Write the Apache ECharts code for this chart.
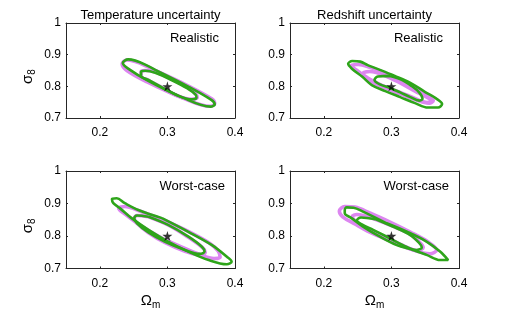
<!DOCTYPE html>
<html>
<head>
<meta charset="utf-8">
<script src="https://cdn.jsdelivr.net/npm/echarts/dist/echarts.min.js"></script>
<style>
html,body{margin:0;padding:0;background:#fff;}
#chart{width:507px;height:312px;}
</style>
</head>
<body>
<div id="chart"></div>
<script>
// ---- data ----
const xTicks = [0.2, 0.3, 0.4];
const yTicks = [0.7, 0.8, 0.9, 1];
const panelTitles = ['Temperature uncertainty', 'Redshift uncertainty', '', ''];
const panelLabels = ['Realistic', 'Realistic', 'Worst-case', 'Worst-case'];
const fiducial = [0.3, 0.8];

// Top-left: temperature uncertainty, realistic
const tlMagentaOuter = [[0.282,0.850],[0.331,0.801],[0.366,0.760],[0.370,0.745],[0.363,0.737],[0.322,0.764],[0.270,0.814],[0.240,0.850],[0.233,0.871],[0.240,0.883]];
const tlMagentaInner = [[0.306,0.823],[0.329,0.798],[0.342,0.776],[0.344,0.765],[0.336,0.759],[0.316,0.769],[0.292,0.796],[0.272,0.819],[0.261,0.833],[0.261,0.846],[0.267,0.850],[0.282,0.845]];
const tlGreenOuter = [[0.282,0.852],[0.330,0.800],[0.365,0.757],[0.370,0.743],[0.364,0.736],[0.322,0.765],[0.271,0.818],[0.242,0.856],[0.234,0.874],[0.242,0.885]];
const tlGreenInner = [[0.306,0.820],[0.329,0.794],[0.342,0.773],[0.343,0.764],[0.336,0.759],[0.316,0.770],[0.292,0.797],[0.272,0.820],[0.261,0.833],[0.261,0.846],[0.267,0.849],[0.282,0.843]];

// Top-right: redshift uncertainty, realistic
const trMagentaOuter = [[0.291,0.841],[0.313,0.818],[0.335,0.793],[0.354,0.768],[0.362,0.755],[0.356,0.747],[0.335,0.758],[0.313,0.776],[0.291,0.795],[0.268,0.818],[0.251,0.847],[0.240,0.866],[0.251,0.869],[0.268,0.860]];
const trMagentaInner = [[0.291,0.833],[0.313,0.811],[0.335,0.785],[0.353,0.765],[0.360,0.754],[0.353,0.749],[0.328,0.768],[0.305,0.787],[0.283,0.806],[0.265,0.826],[0.258,0.841],[0.268,0.847]];
const trGreenOuter = [[0.283,0.852],[0.305,0.833],[0.328,0.811],[0.350,0.782],[0.366,0.762],[0.375,0.744],[0.369,0.733],[0.354,0.733],[0.335,0.747],[0.313,0.766],[0.291,0.785],[0.271,0.804],[0.257,0.830],[0.242,0.855],[0.236,0.871],[0.242,0.880],[0.254,0.878],[0.265,0.867]];
const trGreenInner = [[0.298,0.833],[0.316,0.820],[0.330,0.801],[0.341,0.781],[0.346,0.760],[0.341,0.755],[0.328,0.766],[0.313,0.781],[0.298,0.795],[0.283,0.806],[0.275,0.820],[0.280,0.831]];

// Bottom-left: temperature uncertainty, worst-case
const blMagentaOuter = [[0.296,0.848],[0.333,0.812],[0.363,0.777],[0.375,0.754],[0.378,0.735],[0.369,0.731],[0.348,0.743],[0.319,0.768],[0.289,0.797],[0.259,0.834],[0.237,0.868],[0.228,0.885],[0.237,0.891],[0.259,0.877]];
const blMagentaInner = [[0.272,0.859],[0.301,0.834],[0.331,0.796],[0.352,0.764],[0.356,0.749],[0.349,0.741],[0.326,0.753],[0.296,0.780],[0.272,0.810],[0.255,0.839],[0.251,0.855],[0.255,0.863]];
const blGreenOuter = [[0.292,0.855],[0.331,0.813],[0.366,0.772],[0.388,0.736],[0.395,0.721],[0.388,0.713],[0.361,0.726],[0.331,0.752],[0.301,0.783],[0.272,0.819],[0.247,0.855],[0.230,0.885],[0.220,0.901],[0.218,0.914],[0.225,0.916],[0.237,0.901],[0.257,0.880]];
const blGreenInner = [[0.272,0.859],[0.301,0.834],[0.331,0.798],[0.351,0.767],[0.355,0.752],[0.348,0.745],[0.326,0.757],[0.296,0.783],[0.272,0.811],[0.255,0.839],[0.251,0.855],[0.255,0.863]];

// Bottom-right: redshift uncertainty, worst-case
const brMagentaOuter = [[0.298,0.843],[0.328,0.812],[0.354,0.782],[0.367,0.757],[0.357,0.745],[0.328,0.760],[0.298,0.785],[0.268,0.812],[0.246,0.837],[0.228,0.859],[0.223,0.877],[0.231,0.891],[0.246,0.889],[0.268,0.871]];
const brMagentaInner = [[0.271,0.855],[0.301,0.831],[0.328,0.805],[0.342,0.780],[0.347,0.765],[0.339,0.755],[0.317,0.771],[0.294,0.795],[0.271,0.815],[0.252,0.837],[0.242,0.860],[0.249,0.866]];
const brGreenOuter = [[0.293,0.839],[0.323,0.813],[0.352,0.783],[0.372,0.752],[0.384,0.726],[0.372,0.726],[0.352,0.742],[0.332,0.757],[0.308,0.772],[0.283,0.798],[0.258,0.829],[0.241,0.855],[0.231,0.870],[0.231,0.880],[0.234,0.888],[0.244,0.887],[0.258,0.875]];
const brGreenInner = [[0.276,0.852],[0.302,0.829],[0.328,0.803],[0.341,0.779],[0.345,0.765],[0.337,0.757],[0.317,0.772],[0.294,0.797],[0.273,0.819],[0.257,0.835],[0.249,0.848],[0.255,0.857]];

const panels = [
  [tlMagentaOuter, tlMagentaInner, tlGreenOuter, tlGreenInner],
  [trMagentaOuter, trMagentaInner, trGreenOuter, trGreenInner],
  [blMagentaOuter, blMagentaInner, blGreenOuter, blGreenInner],
  [brMagentaOuter, brMagentaInner, brGreenOuter, brGreenInner]
];

// ---- layout / style ----
const FONT = '"Liberation Sans", Arial, Helvetica, sans-serif';
const AX = '#262626';
const MAGENTA = '#dc86f0';
const GREEN = '#2ea51a';
const grids = [
  {left: 66, top: 23, width: 169, height: 95},
  {left: 290, top: 23, width: 169, height: 95},
  {left: 66, top: 171, width: 169, height: 97.5},
  {left: 290, top: 171, width: 169, height: 97.5}
];
const close = pts => pts.concat([pts[0]]);
const starPath = 'path://M50,0 L61,35 L98,35 L68,57 L79,91 L50,70 L21,91 L32,57 L2,35 L39,35 Z';

const xAxes = [], yAxes = [], series = [], graphics = [];
grids.forEach((g, i) => {
  const isBottom = i >= 2, isLeft = i % 2 === 0;
  const axisLine = {show: true, onZero: false, lineStyle: {color: AX, width: 1}};
  const tick = vals => ({show: true, inside: true, length: 2, customValues: vals, lineStyle: {color: AX}});
  xAxes.push({
    gridIndex: i, type: 'value', position: 'bottom', min: 0.15, max: 0.4,
    axisLine, splitLine: {show: false}, axisTick: tick(xTicks),
    axisLabel: {show: true, customValues: xTicks, margin: 9, color: '#000', fontSize: 12, fontFamily: FONT},
    name: isBottom ? '{a|Ω}{b|m}' : '', nameLocation: 'middle', nameGap: 22,
    nameTextStyle: {rich: {a: {fontSize: 15, fontFamily: FONT, color: '#000'}, b: {fontSize: 10, fontFamily: FONT, color: '#000', padding: [10, 0, 0, 0]}}}
  });
  xAxes.push({
    gridIndex: i, type: 'value', position: 'top', min: 0.15, max: 0.4,
    axisLine, splitLine: {show: false}, axisTick: tick(xTicks), axisLabel: {show: false}
  });
  yAxes.push({
    gridIndex: i, type: 'value', position: 'left', min: 0.7, max: 1,
    axisLine, splitLine: {show: false}, axisTick: tick(yTicks),
    axisLabel: {show: true, customValues: yTicks, margin: 5, color: '#000', fontSize: 12, fontFamily: FONT, padding: [3, 0, 0, 0]},
    name: isLeft ? '{a|σ}{b|8}' : '', nameLocation: 'middle', nameRotate: 90, nameGap: 29,
    nameTextStyle: {padding: [0, 12, 0, 0], rich: {a: {fontSize: 15, fontFamily: FONT, color: '#000'}, b: {fontSize: 10, fontFamily: FONT, color: '#000', padding: [9, 0, 0, 0]}}}
  });
  yAxes.push({
    gridIndex: i, type: 'value', position: 'right', min: 0.7, max: 1,
    axisLine, splitLine: {show: false}, axisTick: tick(yTicks), axisLabel: {show: false}
  });
  panels[i].forEach((pts, k) => {
    const isMag = k < 2;
    series.push({
      type: 'line', xAxisIndex: 2 * i, yAxisIndex: 2 * i,
      data: close(pts), smooth: 0.35, showSymbol: false, symbol: 'none',
      lineStyle: {color: isMag ? MAGENTA : GREEN, width: isMag ? 3.6 : 2.6},
      z: isMag ? 2 : 3, silent: true, animation: false
    });
  });
  series.push({
    type: 'scatter', xAxisIndex: 2 * i, yAxisIndex: 2 * i,
    data: [fiducial], symbol: starPath, symbolSize: 10,
    itemStyle: {color: '#000'}, z: 5, silent: true, animation: false
  });
  const cx = g.left + g.width / 2;
  if (panelTitles[i]) {
    graphics.push({type: 'text', x: cx, y: g.top - 8,
      style: {text: panelTitles[i], fontSize: 13, fontFamily: FONT, fill: '#000', align: 'center', verticalAlign: 'middle'}});
  }
  const lx = isBottom ? g.left + g.width - 10 : g.left + g.width - 16;
  graphics.push({type: 'text', x: lx, y: g.top + 15,
    style: {text: panelLabels[i], fontSize: 13, fontFamily: FONT, fill: '#000', align: 'right', verticalAlign: 'middle'}});
});

const chart = echarts.init(document.getElementById('chart'), null, {renderer: 'canvas'});
chart.setOption({
  animation: false,
  backgroundColor: '#fff',
  grid: grids,
  xAxis: xAxes,
  yAxis: yAxes,
  series: series,
  graphic: graphics
});
</script>
</body>
</html>
